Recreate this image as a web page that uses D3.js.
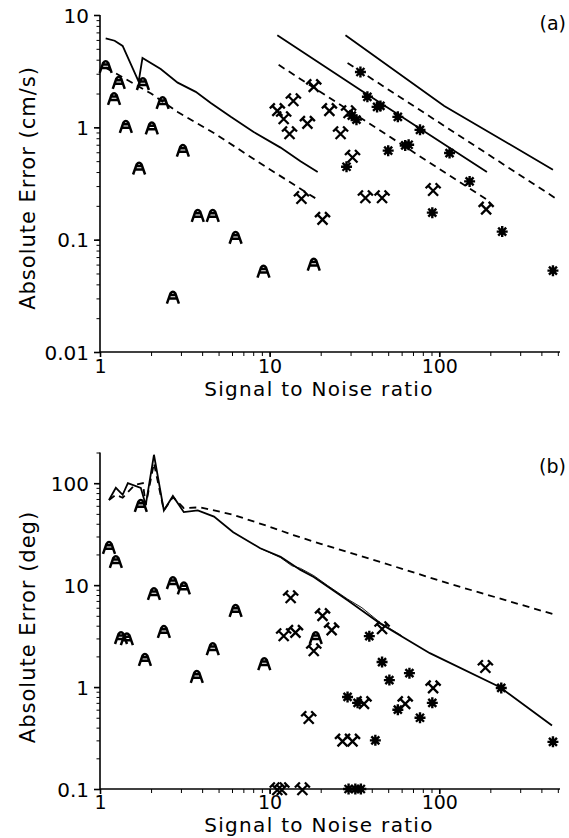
<!DOCTYPE html>
<html>
<head>
<meta charset="utf-8">
<script src="https://cdn.jsdelivr.net/npm/d3@7"></script>
<style>
  body { margin: 0; background: #fff; }
  text { font-family: "DejaVu Sans", sans-serif; fill: #000; }
</style>
</head>
<body>
<script>
// tick labels
const xTicks = [1, 10, 100];
const yTicksA = [0.01, 0.1, 1, 10];
const yTicksB = [0.1, 1, 10, 100];

// panel (a) : velocity error
const aSolid1 = [[1.08, 6.2], [1.22, 5.9], [1.36, 5.3], [1.69, 2.55], [1.78, 4.15], [2.28, 3.3], [2.87, 2.5],
    [3.67, 2.07], [4.5, 1.65], [5.9, 1.24], [8.05, 0.91], [11.6, 0.66], [15.2, 0.5], [19.2, 0.40]];
const aDash1 = [[1.08, 3.4], [2.0, 2.0], [2.87, 1.37], [4.69, 0.89], [9.7, 0.436], [19.2, 0.227]];
const aSolid2 = [[11.1, 6.6], [34.3, 2.15], [191, 0.40]];
const aDash2 = [[11.3, 3.6], [191, 0.227]];
const aSolid3 = [[28, 6.6], [107, 1.55], [468, 0.42]];
const aDash3 = [[28.8, 3.74], [480, 0.236]];
const aTower = [[1.08, 3.45], [1.29, 2.49], [1.21, 1.79], [1.79, 2.43], [1.42, 1.01], [2.02, 0.98], [2.34, 1.65],
    [1.70, 0.43], [3.08, 0.62], [3.77, 0.163], [4.62, 0.163], [6.3, 0.104], [9.2, 0.052], [2.69, 0.0305], [18.2, 0.060]];
const aCross = [[11.1, 1.43], [12.1, 1.21], [13.8, 1.75], [13.1, 0.89], [16.7, 1.10], [18.2, 2.34], [22.5, 1.43],
    [26.2, 0.89], [29.2, 1.37], [30.8, 0.55], [15.4, 0.236], [20.5, 0.154], [36.7, 0.24], [46, 0.24], [92, 0.278], [189, 0.19]];
const aStar = [[34.3, 3.11], [37.7, 1.87], [43, 1.52], [45, 1.55], [57, 1.24], [77, 0.95], [115, 0.59], [50, 0.62],
    [63, 0.69], [66, 0.70], [30.5, 1.27], [32.5, 1.17], [28.4, 0.446], [91, 0.174], [235, 0.118], [468, 0.053], [151, 0.33]];

// panel (b) : direction error
const bSolid = [[1.13, 68.5], [1.24, 90], [1.36, 77], [1.46, 100], [1.74, 90], [1.86, 61], [2.08, 190], [2.38, 54],
    [2.69, 75], [3.12, 52], [3.77, 54], [4.7, 47], [6.1, 33], [8.8, 23], [11.6, 19], [15.2, 14.1], [18.2, 12],
    [28.8, 7.1], [44.8, 4.2], [88, 2.15], [227, 1.0], [462, 0.42]];
const bThin = [[8.8, 23], [11.6, 18.6], [13.5, 15.5], [15.2, 14.6], [18.2, 12.4], [22, 9.9], [28.8, 7.3],
    [35, 6.0], [44.8, 4.3], [60, 3.2]];
const bDash = [[1.13, 68.5], [1.24, 77], [1.36, 72], [1.6, 96], [1.79, 100], [1.86, 61], [2.08, 157], [2.38, 54],
    [2.69, 73], [3.12, 57], [3.9, 58], [6.1, 49], [9.7, 38], [13.8, 31], [20, 25.4], [44.8, 16.9], [111, 10.5], [468, 5.2]];
const bTower = [[1.13, 23.2], [1.24, 16.9], [1.74, 60], [1.33, 3.03], [1.44, 2.95], [2.08, 8.2], [2.69, 10.5],
    [3.12, 9.3], [2.38, 3.48], [1.84, 1.85], [3.72, 1.26], [4.62, 2.36], [6.3, 5.6], [9.3, 1.68], [18.7, 3.03]];
const bCross = [[13.3, 7.65], [12.1, 3.24], [14.2, 3.5], [20.5, 5.1], [23.2, 3.7], [18.2, 2.31], [17, 0.5], [46, 3.8],
    [187, 1.58], [92, 1.0], [63, 0.70], [36, 0.70], [26.9, 0.30], [30.8, 0.30], [11.1, 0.1], [11.8, 0.1], [15.6, 0.1]];
const bStar = [[38.7, 3.16], [46, 1.76], [50.8, 1.17], [66.7, 1.37], [91, 0.70], [77, 0.5], [57, 0.60], [28.8, 0.80],
    [33, 0.70], [42, 0.30], [232, 0.98], [468, 0.29], [29.2, 0.1], [32, 0.1], [34.5, 0.1]];

const width = 569;
const height = 838;

let svg = d3.select("body")
    .append("svg")
    .attr("width", width)
    .attr("height", height);

const x = d3.scaleLog().domain([1, 515]).range([100, 560]);

// marker shapes
const towerPath = "M-6,6 L-2.5,-4 Q0,-7.5 2.5,-4 L6,6 M-3.8,1 L3.8,1 M-2.6,-2.5 L2.6,-2.5";
const crossPath = "M-5,-4 L5,6 M5,-4 L-5,6 M-7.5,-1.5 L-2.5,-6.5 M2.5,-6.5 L7.5,-1.5";
const starPath = "M-5.5,0 L5.5,0 M0,-5.5 L0,5.5 M-4,-4 L4,4 M4,-4 L-4,4";

function drawPanel(p) {
    const y = d3.scaleLog().domain(p.yDomain).range(p.yRange);
    const g = svg.append("g");

    // minor ticks
    g.append("g")
        .attr("transform", `translate(0,${p.yRange[0]})`)
        .call(d3.axisBottom(x).tickValues(x.ticks()).tickSize(4).tickFormat(""))
        .call(a => a.select(".domain").remove());
    g.append("g")
        .attr("transform", "translate(100,0)")
        .call(d3.axisLeft(y).tickValues(y.ticks()).tickSize(3.5).tickFormat(""))
        .call(a => a.select(".domain").remove());

    // major ticks + labels
    const xa = g.append("g")
        .attr("transform", `translate(0,${p.yRange[0]})`)
        .call(d3.axisBottom(x).tickValues(xTicks).tickSize(5).tickFormat(d3.format("")));
    const ya = g.append("g")
        .attr("transform", "translate(100,0)")
        .call(d3.axisLeft(y).tickValues(p.yTicks).tickSize(6).tickPadding(5).tickFormat(d => String(d)));

    [xa, ya].forEach(a => {
        a.attr("font-family", null).attr("font-size", null);
        a.selectAll("line, .domain").attr("stroke", "#000").attr("stroke-width", 1.6);
    });
    xa.select(".domain").attr("d", `M100,0H560`);
    ya.select(".domain").attr("d", `M0,${p.yRange[0]}V${p.yRange[1]}`);
    xa.selectAll("text")
        .attr("dy", null)
        .attr("y", p.xLabelY - p.yRange[0])
        .style("font-size", "19px");
    ya.selectAll("text")
        .attr("dy", "0.36em")
        .style("font-size", "20px");

    const line = d3.line()
        .x(d => x(d[0]))
        .y(d => y(d[1]));

    p.solid.forEach(s => {
        g.append("path")
            .datum(s)
            .attr("fill", "none")
            .attr("stroke", "#000")
            .attr("stroke-width", 1.8)
            .attr("d", line);
    });
    p.thin.forEach(s => {
        g.append("path")
            .datum(s)
            .attr("fill", "none")
            .attr("stroke", "#000")
            .attr("stroke-width", 0.9)
            .attr("d", line);
    });
    p.dash.forEach(s => {
        g.append("path")
            .datum(s)
            .attr("fill", "none")
            .attr("stroke", "#000")
            .attr("stroke-width", 1.8)
            .attr("stroke-dasharray", "7,5")
            .attr("d", line);
    });

    g.selectAll(null)
        .data(p.tower)
        .join("path")
        .attr("transform", d => `translate(${x(d[0])},${y(d[1])})`)
        .attr("d", towerPath)
        .attr("fill", "none")
        .attr("stroke", "#000")
        .attr("stroke-width", 2.5);

    g.selectAll(null)
        .data(p.cross)
        .join("path")
        .attr("transform", d => `translate(${x(d[0])},${y(d[1])})`)
        .attr("d", crossPath)
        .attr("fill", "none")
        .attr("stroke", "#000")
        .attr("stroke-width", 2.3);

    const st = g.selectAll(null)
        .data(p.star)
        .join("g")
        .attr("transform", d => `translate(${x(d[0])},${y(d[1])})`);
    st.append("path")
        .attr("d", starPath)
        .attr("stroke", "#000")
        .attr("stroke-width", 2.4);
    st.append("circle")
        .attr("r", 2.8)
        .attr("fill", "#000");

    // axis titles
    g.append("text")
        .attr("x", 319)
        .attr("y", p.titleY)
        .attr("text-anchor", "middle")
        .style("font-size", "20px")
        .style("letter-spacing", "1.3px")
        .text("Signal to Noise ratio");

    g.append("text")
        .attr("transform", `translate(35,${p.yTitleCenter}) rotate(-90)`)
        .attr("text-anchor", "middle")
        .style("font-size", "21px")
        .style("letter-spacing", "1px")
        .text(p.yTitle);

    g.append("text")
        .attr("x", 566)
        .attr("y", p.tagY)
        .attr("text-anchor", "end")
        .style("font-size", "19px")
        .text(p.tag);
}

drawPanel({
    yDomain: [0.01, 10], yRange: [352, 15], yTicks: yTicksA,
    xLabelY: 373, titleY: 396, yTitleCenter: 188,
    yTitle: "Absolute Error (cm/s)", tag: "(a)", tagY: 30,
    solid: [aSolid1, aSolid2, aSolid3], thin: [], dash: [aDash1, aDash2, aDash3],
    tower: aTower, cross: aCross, star: aStar
});

drawPanel({
    yDomain: [0.1, 200], yRange: [789, 452.5], yTicks: yTicksB,
    xLabelY: 809, titleY: 832, yTitleCenter: 627,
    yTitle: "Absolute Error (deg)", tag: "(b)", tagY: 473,
    solid: [bSolid], thin: [bThin], dash: [bDash],
    tower: bTower, cross: bCross, star: bStar
});
</script>
</body>
</html>
